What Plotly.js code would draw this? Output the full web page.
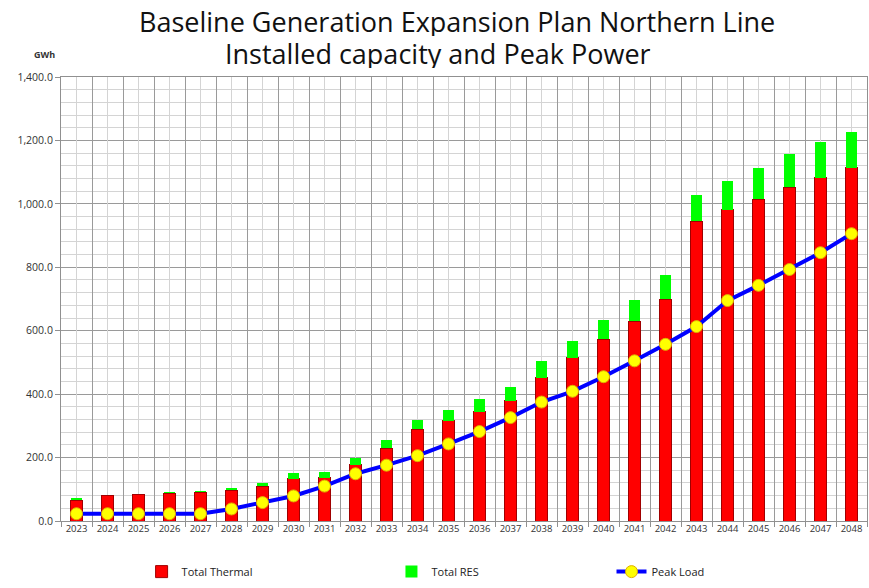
<!DOCTYPE html>
<html>
<head>
<meta charset="utf-8">
<script src="https://cdn.plot.ly/plotly-3.0.1.min.js"></script>
<style>html,body{margin:0;padding:0;background:#fff;}#chart{width:869px;height:588px;}</style>
</head>
<body>
<div id="chart"></div>
<script>
const years = ["2023","2024","2025","2026","2027","2028","2029","2030","2031","2032","2033","2034","2035","2036","2037","2038","2039","2040","2041","2042","2043","2044","2045","2046","2047","2048"];
const totalThermal = [66,79,84,88,91,97,110,134,136,178,230,289,316,345,379,452,515,573,630,699,945,981,1015,1053,1083,1114];
const totalRES = [6,0,2,3,4,7,9,16,19,22,25,31,33,40,43,51,53,62,68,77,83,91,97,105,111,113];
const peakLoad = [23,23,23,23,23,38,58,79,110,149,176,206,243,282,326,375,409,455,505,557,613,695,743,793,846,906];
const yTicks = [0,200,400,600,800,1000,1200,1400];

const idx = years.map((_, i) => i);
const font = "'Open Sans', 'Noto Sans', sans-serif";

const traces = [
  {type:'bar', name:'Total Thermal', x: idx, y: totalThermal, width:0.38,
   marker:{color:'#ff0000', line:{color:'#a00000', width:1}}, legend:'legend'},
  {type:'bar', name:'Total RES', x: idx, y: totalRES, width:0.38,
   marker:{color:'#00ff00', line:{width:0}}, legend:'legend2'},
  {type:'scatter', mode:'lines+markers', name:'Peak Load', x: idx, y: peakLoad,
   line:{color:'#0000ff', width:4}, marker:{color:'#ffff00', size:12, line:{color:'#e0b000', width:1}}, legend:'legend3'}
];

const legBase = {orientation:'h', yanchor:'middle', xanchor:'left', y:-0.114,
  font:{family:font, size:11, color:'#222'}, bgcolor:'rgba(0,0,0,0)', itemwidth:30};

const layout = {
  width:869, height:588,
  margin:{l:61, r:2, t:77, b:63},
  paper_bgcolor:'#fff', plot_bgcolor:'#fff',
  barmode:'stack',
  showlegend:true,
  legend: Object.assign({}, legBase, {x:0.1}),
  legend2: Object.assign({}, legBase, {x:0.41}),
  legend3: Object.assign({}, legBase, {x:0.683}),
  xaxis:{
    type:'linear', range:[-0.5, 25.5], tickmode:'linear', tick0:-0.5, dtick:1,
    showticklabels:false, showgrid:true, gridcolor:'#9a9a9a', gridwidth:1,
    ticks:'outside', ticklen:5, tickcolor:'#909090', zeroline:false,
    showline:true, linecolor:'#909090', linewidth:1, mirror:true
  },
  xaxis2:{
    type:'linear', overlaying:'x', anchor:'y', side:'bottom', range:[-0.5, 25.5],
    tickmode:'array', tickvals: idx, ticktext: years,
    showgrid:true, gridcolor:'#d4d4d4', gridwidth:1, ticks:'', zeroline:false, showline:false,
    tickfont:{family:font, size:9.5, color:'#333'}
  },
  yaxis:{
    range:[0, 1400], tickmode:'array', tickvals: yTicks, tickformat:',.1f',
    showgrid:true, gridcolor:'#9a9a9a', gridwidth:1, zeroline:false,
    ticks:'outside', ticklen:5, tickcolor:'#909090',
    tickfont:{family:font, size:10.5, color:'#333'},
    showline:true, linecolor:'#909090', linewidth:1, mirror:true,
    minor:{tickmode:'linear', tick0:0, dtick:40, showgrid:true, gridcolor:'#d4d4d4', gridwidth:1}
  },
  annotations:[
    {text:'Baseline Generation Expansion Plan Northern Line', xref:'paper', yref:'paper',
     x:(457-61)/806, y:(525-20)/448, xanchor:'center', yanchor:'middle', showarrow:false, height:30,
     font:{family:font, size:27, color:'#111'}},
    {text:'Installed capacity and Peak Power', xref:'paper', yref:'paper',
     x:(438-61)/806, y:(525-53)/448, xanchor:'center', yanchor:'middle', showarrow:false, height:30,
     font:{family:font, size:27, color:'#111'}},
    {text:'<b>GWh</b>', xref:'paper', yref:'paper', x:(44-61)/806, y:(525-54)/448,
     xanchor:'center', yanchor:'middle', showarrow:false, font:{family:font, size:9, color:'#333'}}
  ]
};

// invisible helper trace so that the label axis (xaxis2) is drawn
traces.push({type:'scatter', x:[idx[0]], y:[null], xaxis:'x2', yaxis:'y', showlegend:false, hoverinfo:'skip'});

Plotly.newPlot('chart', traces, layout, {displayModeBar:false, staticPlot:true});
</script>
</body>
</html>
